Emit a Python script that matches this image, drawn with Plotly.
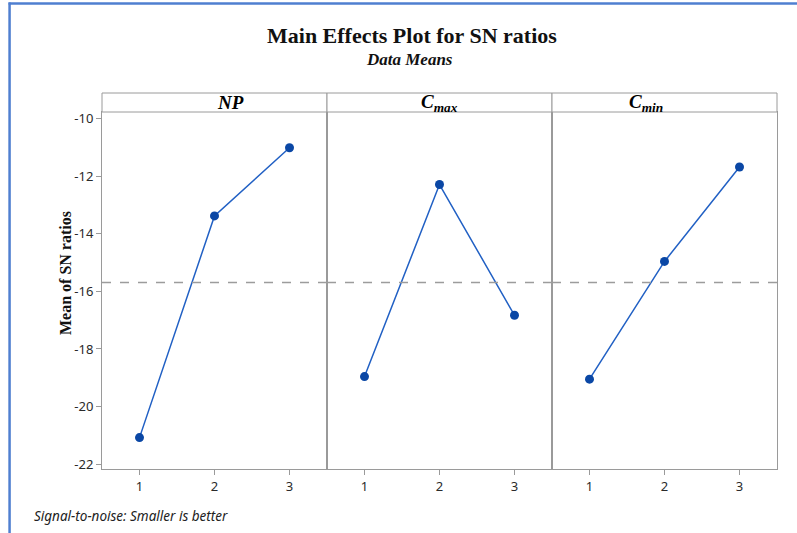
import plotly.graph_objects as go
from plotly.subplots import make_subplots

# data
levels = [1, 2, 3]
factors = ["NP", "Cmax", "Cmin"]
sn_np = [-21.08, -13.38, -11.01]
sn_cmax = [-18.96, -12.29, -16.83]
sn_cmin = [-19.05, -14.96, -11.68]
overall_mean = -15.69
y_ticks = [-22, -20, -18, -16, -14, -12, -10]
y_ticklabels = ["-22", "-20", "-18", "-16", "-14", "-12", "-10"]

strip_labels = {
    "NP": "<b><i>NP</i></b>",
    "Cmax": "<b><i>C</i></b><sub><b><i>max</i></b></sub>",
    "Cmin": "<b><i>C</i></b><sub><b><i>min</i></b></sub>",
}

W, H = 797, 533
L, R, T, B = 101.5, 777, 112, 469  # plot area in pixels
STRIP_TOP = 93

def px_x(px):
    return (px - L) / (R - L)

def px_y(py):
    return (B - py) / (B - T)

LINE_COL = "#2160c4"
MARK_COL = "#0a47a5"
FRAME_COL = "#9a9a9a"
SERIF = "Liberation Serif, Times New Roman, serif"
SANS = "Noto Sans, Open Sans, sans-serif"

fig = make_subplots(rows=1, cols=3, shared_yaxes=True, horizontal_spacing=0)

for i, vals in enumerate([sn_np, sn_cmax, sn_cmin]):
    fig.add_trace(go.Scatter(
        x=levels, y=vals, mode="lines+markers",
        line=dict(color=LINE_COL, width=1.5),
        marker=dict(color=MARK_COL, size=9),
        showlegend=False), row=1, col=i + 1)

    # dashed overall-mean line
    fig.add_shape(type="line", xref=f"x{i + 1 if i else ''} domain", yref="y",
                  x0=0, x1=1, y0=overall_mean, y1=overall_mean,
                  line=dict(color="#9c9c9c", width=1.5, dash="dash"))

fig.update_xaxes(range=[0.5, 3.5], tickvals=levels, ticktext=[str(v) for v in levels],
                 showline=True, mirror=True, linecolor=FRAME_COL, linewidth=1,
                 ticks="outside", ticklen=5, tickcolor=FRAME_COL,
                 showgrid=False, zeroline=False,
                 tickfont=dict(family=SANS, size=13, color="#2a2a2a"))
fig.update_yaxes(range=[-22.17, -9.77], showline=True, mirror=True,
                 linecolor=FRAME_COL, linewidth=1, showgrid=False, zeroline=False)
fig.update_yaxes(tickvals=y_ticks, ticktext=y_ticklabels, ticks="outside", ticklen=5,
                 tickcolor=FRAME_COL, tickfont=dict(family=SANS, size=13, color="#2a2a2a"),
                 row=1, col=1)

# strip headers
strip_y0 = 1.0
strip_y1 = px_y(STRIP_TOP)
panel_w = 1 / 3
for i, f in enumerate(factors):
    fig.add_shape(type="rect", xref="paper", yref="paper",
                  x0=i * panel_w, x1=(i + 1) * panel_w, y0=strip_y0, y1=strip_y1,
                  line=dict(color=FRAME_COL, width=1), fillcolor="white")
    fig.add_annotation(x=(i + 0.5) * panel_w, y=(strip_y0 + strip_y1) / 2,
                       xref="paper", yref="paper", text=strip_labels[f],
                       showarrow=False, yanchor="middle",
                       font=dict(family=SERIF, size=19, color="black"))

# titles
fig.add_annotation(x=px_x(412), y=px_y(45), xref="paper", yref="paper",
                   text="<b>Main Effects Plot for SN ratios</b>", showarrow=False,
                   yanchor="bottom", yshift=-5,
                   font=dict(family=SERIF, size=22, color="#111"))
fig.add_annotation(x=px_x(409), y=px_y(67), xref="paper", yref="paper",
                   text="<b><i>Data Means</i></b>", showarrow=False,
                   yanchor="bottom", yshift=-4,
                   font=dict(family=SERIF, size=17, color="#111"))
fig.add_annotation(x=px_x(54), y=px_y(273), xref="paper", yref="paper",
                   text="<b>Mean of SN ratios</b>", showarrow=False, textangle=-90,
                   font=dict(family=SERIF, size=16, color="#111"))
fig.add_annotation(x=px_x(31), y=px_y(523), xref="paper", yref="paper",
                   text="<i>Signal-to-noise: Smaller is better</i>", showarrow=False,
                   xanchor="left", yanchor="bottom", yshift=-4,
                   font=dict(family=SANS, size=13.5, color="#222"))

# blue outer frame (top and left edges)
fig.add_shape(type="line", xref="paper", yref="paper",
              x0=px_x(8), x1=px_x(W + 5), y0=px_y(3.5), y1=px_y(3.5),
              line=dict(color="#4f7fd0", width=2.5))
fig.add_shape(type="line", xref="paper", yref="paper",
              x0=px_x(9), x1=px_x(9), y0=px_y(2.5), y1=px_y(H + 5),
              line=dict(color="#4f7fd0", width=2.5))

fig.update_layout(width=W, height=H, plot_bgcolor="white", paper_bgcolor="white",
                  margin=dict(l=L, r=W - R, t=T, b=H - B), showlegend=False)

# drop the browser's default body margin so the figure sits at the page origin
fig.write_html("out.html", config={"displayModeBar": False},
               post_script="document.body.style.margin = '0';")
